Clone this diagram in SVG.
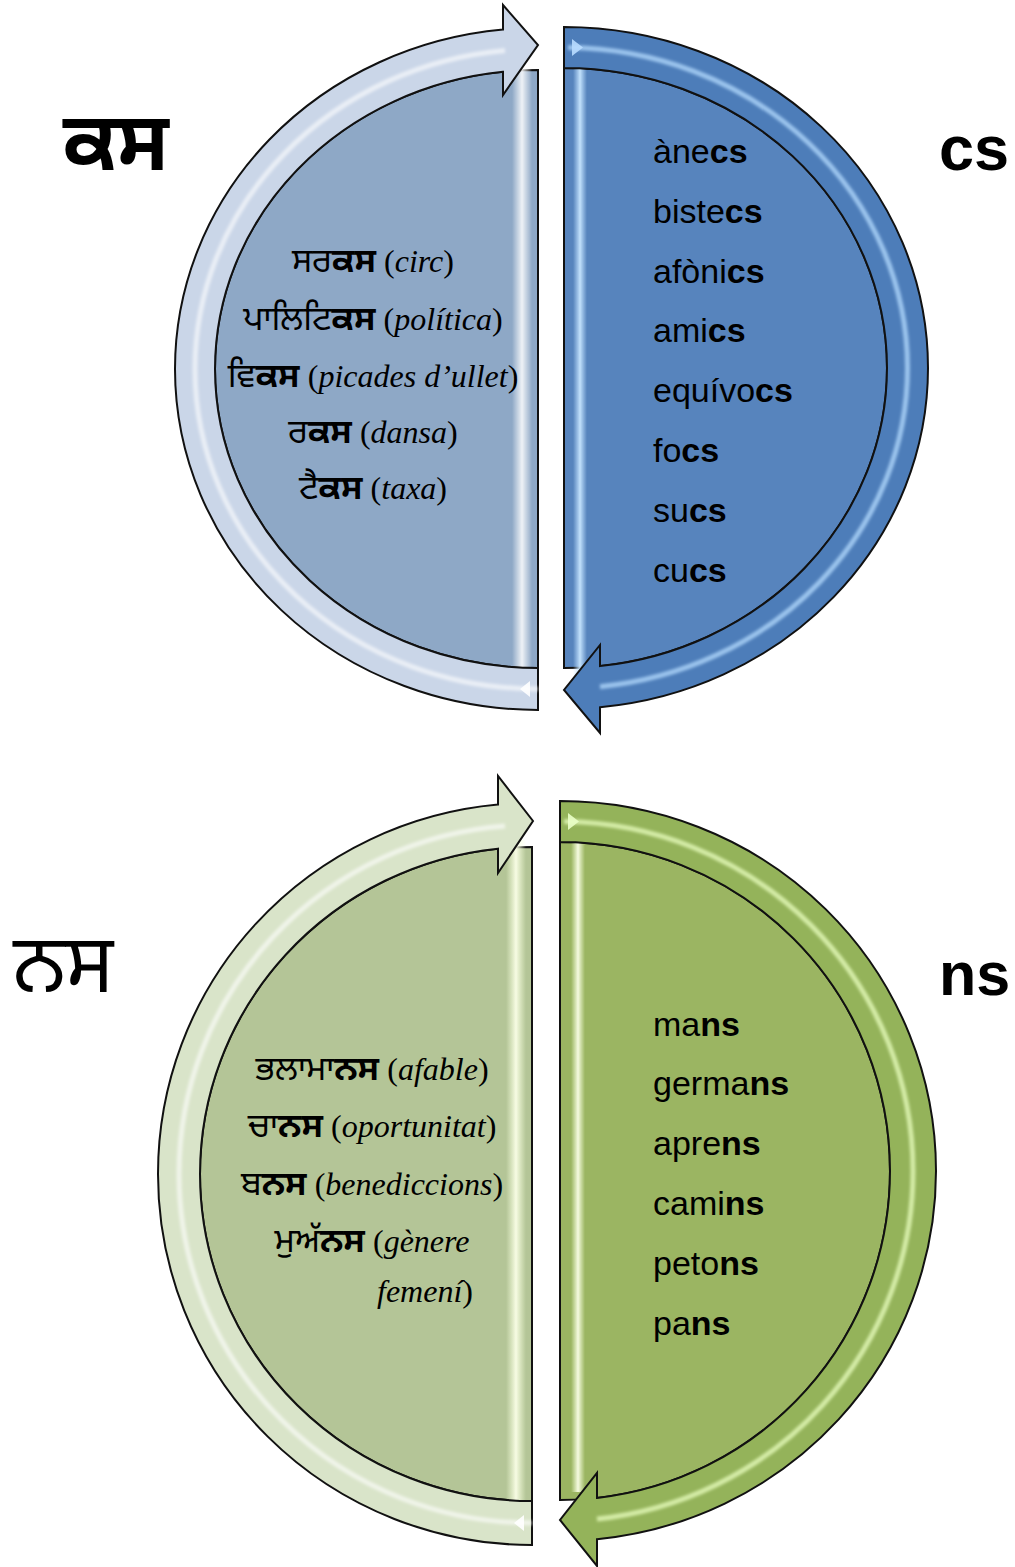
<svg xmlns="http://www.w3.org/2000/svg" width="1015" height="1567" viewBox="0 0 1015 1567">
<defs>
<style>
.out{stroke:#111;stroke-width:2;stroke-linejoin:miter}
.lat{font-family:"Liberation Sans",Arial,sans-serif;font-size:34px;fill:#000}
.b{font-weight:bold}
.gur{font-family:"Noto Sans Gurmukhi","Noto Sans","Liberation Sans",sans-serif}
.lst{font-size:32px;fill:#000}
.lst .gur{font-size:34px}
.it{font-family:"Liberation Serif","Times New Roman",serif;font-style:italic}
.par{font-family:"Liberation Serif","Times New Roman",serif;font-style:normal}
.hl{fill:none;stroke-width:5;filter:url(#blur)}
</style>
<filter id="blur" x="-10%" y="-10%" width="120%" height="120%"><feGaussianBlur stdDeviation="1.6"/></filter>
<linearGradient id="stripeW" x1="0" y1="0" x2="1" y2="0">
<stop offset="0" stop-color="#fff" stop-opacity="0"/>
<stop offset="0.5" stop-color="#fff" stop-opacity="0.85"/>
<stop offset="1" stop-color="#fff" stop-opacity="0"/>
</linearGradient>
<linearGradient id="stripeB" x1="0" y1="0" x2="1" y2="0">
<stop offset="0" stop-color="#bfe0ff" stop-opacity="0"/>
<stop offset="0.5" stop-color="#c8e6ff" stop-opacity="0.95"/>
<stop offset="1" stop-color="#bfe0ff" stop-opacity="0"/>
</linearGradient>
<linearGradient id="stripeG" x1="0" y1="0" x2="1" y2="0">
<stop offset="0" stop-color="#f4ffd8" stop-opacity="0"/>
<stop offset="0.5" stop-color="#fbffe8" stop-opacity="0.95"/>
<stop offset="1" stop-color="#f4ffd8" stop-opacity="0"/>
</linearGradient>
</defs>
<rect width="1015" height="1567" fill="#fff"/>

<!-- headings -->
<g id="head-ks"><text x="63" y="170" class="gur b" style="font-size:82px">ਕਸ</text></g>
<g id="head-cs"><text x="939" y="170" class="lat b" style="font-size:63px">cs</text></g>
<g id="head-ns-g"><text x="13" y="992" class="gur" style="font-size:81px">ਨਸ</text></g>
<g id="head-ns"><text x="939" y="995" class="lat b" style="font-size:61px">ns</text></g>

<!-- top-left node -->
<g id="node-ks">
<path class="out" d="M538,70 A323 299 0 0 0 215,369 A323 299 0 0 0 538,668 Z" fill="#8ea8c6"/>
<rect x="512" y="60" width="20" height="608" fill="url(#stripeW)"/>
<text class="lst" x="373" y="272" text-anchor="middle"><tspan class="gur">ਸਰ</tspan><tspan class="gur b">ਕਸ</tspan><tspan class="par"> (</tspan><tspan class="it">circ</tspan><tspan class="par">)</tspan></text>
<text class="lst" x="373" y="330" text-anchor="middle"><tspan class="gur">ਪਾਲਿਟਿ</tspan><tspan class="gur b">ਕਸ</tspan><tspan class="par"> (</tspan><tspan class="it">política</tspan><tspan class="par">)</tspan></text>
<text class="lst" x="373" y="387" text-anchor="middle"><tspan class="gur">ਵਿ</tspan><tspan class="gur b">ਕਸ</tspan><tspan class="par"> (</tspan><tspan class="it">picades d’ullet</tspan><tspan class="par">)</tspan></text>
<text class="lst" x="373" y="443" text-anchor="middle"><tspan class="gur">ਰ</tspan><tspan class="gur b">ਕਸ</tspan><tspan class="par"> (</tspan><tspan class="it">dansa</tspan><tspan class="par">)</tspan></text>
<text class="lst" x="373" y="499" text-anchor="middle"><tspan class="gur">ਟੈ</tspan><tspan class="gur b">ਕਸ</tspan><tspan class="par"> (</tspan><tspan class="it">taxa</tspan><tspan class="par">)</tspan></text>
</g>

<!-- top-right node -->
<g id="node-cs">
<path class="out" d="M564,68 A323 300 0 0 1 887,368 A323 300 0 0 1 564,668 Z" fill="#5784bd"/>
<rect x="573" y="68" width="14" height="615" fill="url(#stripeB)"/>
<text class="lat" x="653" y="163">àne<tspan class="b">cs</tspan></text>
<text class="lat" x="653" y="223">biste<tspan class="b">cs</tspan></text>
<text class="lat" x="653" y="283">afòni<tspan class="b">cs</tspan></text>
<text class="lat" x="653" y="342">ami<tspan class="b">cs</tspan></text>
<text class="lat" x="653" y="402">equívo<tspan class="b">cs</tspan></text>
<text class="lat" x="653" y="462">fo<tspan class="b">cs</tspan></text>
<text class="lat" x="653" y="522">su<tspan class="b">cs</tspan></text>
<text class="lat" x="653" y="582">cu<tspan class="b">cs</tspan></text>
</g>

<!-- bottom-left node -->
<g id="node-ns-g">
<path class="out" d="M532,847 A332 327 0 0 0 200,1174 A332 327 0 0 0 532,1501 Z" fill="#b4c597"/>
<rect x="506" y="840" width="20" height="661" fill="url(#stripeG)"/>
<text class="lst" x="372" y="1080" text-anchor="middle"><tspan class="gur">ਭਲਾਮਾ</tspan><tspan class="gur b">ਨਸ</tspan><tspan class="par"> (</tspan><tspan class="it">afable</tspan><tspan class="par">)</tspan></text>
<text class="lst" x="372" y="1137" text-anchor="middle"><tspan class="gur">ਚਾ</tspan><tspan class="gur b">ਨਸ</tspan><tspan class="par"> (</tspan><tspan class="it">oportunitat</tspan><tspan class="par">)</tspan></text>
<text class="lst" x="372" y="1195" text-anchor="middle"><tspan class="gur">ਬ</tspan><tspan class="gur b">ਨਸ</tspan><tspan class="par"> (</tspan><tspan class="it">benediccions</tspan><tspan class="par">)</tspan></text>
<text class="lst" x="372" y="1252" text-anchor="middle"><tspan class="gur">ਮੁਅੱ</tspan><tspan class="gur b">ਨਸ</tspan><tspan class="par"> (</tspan><tspan class="it">gènere</tspan></text>
<text class="lst" x="377" y="1302"><tspan class="it">femení</tspan><tspan class="par">)</tspan></text>
</g>

<!-- bottom-right node -->
<g id="node-ns">
<path class="out" d="M560,842 A330 329 0 0 1 890,1171 A330 329 0 0 1 560,1500 Z" fill="#9bb562"/>
<rect x="571" y="842" width="14" height="650" fill="url(#stripeG)"/>
<text class="lat" x="653" y="1036">ma<tspan class="b">ns</tspan></text>
<text class="lat" x="653" y="1095">germa<tspan class="b">ns</tspan></text>
<text class="lat" x="653" y="1155">apre<tspan class="b">ns</tspan></text>
<text class="lat" x="653" y="1215">cami<tspan class="b">ns</tspan></text>
<text class="lat" x="653" y="1275">peto<tspan class="b">ns</tspan></text>
<text class="lat" x="653" y="1335">pa<tspan class="b">ns</tspan></text>
</g>

<!-- curved arrows -->
<g id="connectors">
<g id="arrow-ks">
<path class="out" d="M538,710 L538,668 A323 299 0 0 1 215,369 A323 299 0 0 1 503,71.8 L503,95 L538,45 L503,5 L503,29.6 A363 341 0 0 0 175,369 A363 341 0 0 0 538,710 Z" fill="#cad6e8"/>
<path class="hl" d="M538,689 A343 320 0 0 1 195,369 A343 320 0 0 1 505,50.5" stroke="#fff" stroke-opacity="0.6"/>
<path d="M530,681 L520,689 L530,697 Z" fill="#fff" opacity="0.9"/>
</g>
<g id="arrow-cs">
<path class="out" d="M564,27 L564,68 A323 300 0 0 1 887,368 A323 300 0 0 1 600,666.1 L600,645 L564,690 L600,733 L600,707.3 A364 341 0 0 0 928,368 A364 341 0 0 0 564,27 Z" fill="#4d7db9"/>
<path class="hl" d="M568,47.6 A343.5 320.5 0 0 1 907.5,368 A343.5 320.5 0 0 1 600,686.7" stroke="#b5dcff" stroke-opacity="0.75"/>
<path d="M572,39 L583,47.5 L572,56 Z" fill="#b8dcff" opacity="0.9"/>
</g>
<g id="arrow-ns-g">
<path class="out" d="M532,1545 L532,1501 A332 327 0 0 1 200,1174 A332 327 0 0 1 498,848.7 L498,873 L533,821 L498,776 L498,804.5 A374 371 0 0 0 158,1174 A374 371 0 0 0 532,1545 Z" fill="#d9e4c9"/>
<path class="hl" d="M532,1523 A353 349 0 0 1 179,1174 A353 349 0 0 1 505,826" stroke="#fff" stroke-opacity="0.6"/>
<path d="M524,1515 L514,1523 L524,1531 Z" fill="#fff" opacity="0.9"/>
</g>
<g id="arrow-ns">
<path class="out" d="M560,801 L560,842 A330 329 0 0 1 890,1171 A330 329 0 0 1 597,1497.9 L597,1473 L560,1520 L597,1566 L597,1539.2 A376 370 0 0 0 936,1171 A376 370 0 0 0 560,801 Z" fill="#94b35a"/>
<path class="hl" d="M564,821.6 A353 349.5 0 0 1 913,1171 A353 349.5 0 0 1 597,1519" stroke="#eaffc0" stroke-opacity="0.75"/>
<path d="M568,813 L579,821.5 L568,830 Z" fill="#eaffc8" opacity="0.9"/>
</g>
</g>
</svg>
